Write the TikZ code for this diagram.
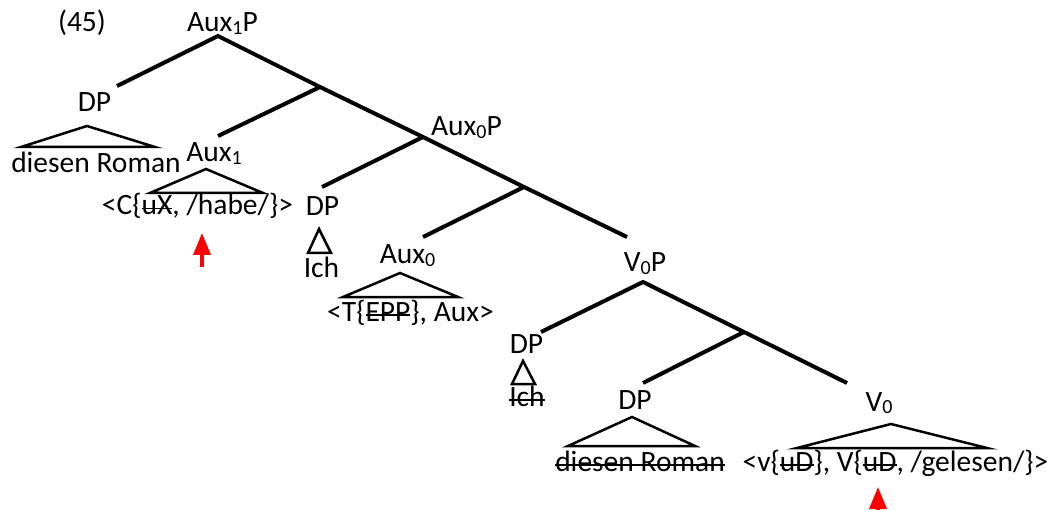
\documentclass[tikz,border=0pt]{standalone}
\usepackage{fontspec}
\setmainfont{Carlito}
\usetikzlibrary{arrows.meta}
\newsavebox{\mystrkbox}
\newcommand{\mystrk}[1]{\sbox{\mystrkbox}{#1}\rlap{\rule[5.5pt]{\wd\mystrkbox}{1.8pt}}\usebox{\mystrkbox}}
\newcommand{\lsub}[1]{\raisebox{-2.5pt}{\fontsize{20}{20}\selectfont #1}}
\begin{document}
\begin{tikzpicture}[x=1pt,y=-1pt,
  lbl/.style={anchor=base,inner sep=0pt,font=\fontsize{29.5}{34}\selectfont},
  branch/.style={line width=4pt},
  tri/.style={line width=2.5pt,line join=miter},
  redarrow/.style={red,line width=3.6pt,-{Triangle[length=22pt,width=17pt]}}]
\useasboundingbox (0,0) rectangle (1056,510);
% labels
\node[lbl] (num) at (82,32) {(45)};
\node[lbl] (auxonep) at (222.5,32) {Aux\lsub{1}P};
\node[lbl] (dpa) at (94.5,112) {DP};
\node[lbl] (dr) at (96,173) {diesen Roman};
\node[lbl] (auxone) at (214,162) {Aux\lsub{1}};
\node[lbl] (chabe) at (197.5,215) {<C\{\mystrk{uX}, /habe/\}>};
\node[lbl] (dpb) at (322.5,216) {DP};
\node[lbl] (ich) at (321.5,278) {Ich};
\node[lbl] (auxzp) at (466.5,136) {Aux\lsub{0}P};
\node[lbl] (auxz) at (407.5,264) {Aux\lsub{0}};
\node[lbl] (tepp) at (410.5,321) {<T\{\mystrk{EPP}\}, Aux>};
\node[lbl] (vzp) at (645,272) {V\lsub{0}P};
\node[lbl] (dpc) at (526.5,353) {DP};
\node[lbl] (ichs) at (527,406) {\mystrk{Ich}};
\node[lbl] (dpd) at (635,409) {DP};
\node[lbl] (vz) at (879,411) {V\lsub{0}};
\node[lbl] (drs) at (640,471) {\mystrk{diesen Roman}};
\node[lbl] (vgel) at (895.5,471) {<v\{\mystrk{uD}\}, V\{\mystrk{uD}, /gelesen/\}>};
% tree coordinates
\coordinate (r) at (218,36);
\coordinate (dpaend) at (117,86);
\coordinate (j1) at (320,87);
\coordinate (auxoneend) at (218,136);
\coordinate (j2) at (423,137);
\coordinate (dpbend) at (322,187);
\coordinate (j3) at (524,187);
\coordinate (auxzend) at (423,237);
\coordinate (vzpend) at (627,237);
\coordinate (va) at (643,282);
\coordinate (dpcend) at (541,332);
\coordinate (j4) at (744,332);
\coordinate (dpdend) at (643,383);
\coordinate (vzend) at (847,383);
\draw[branch] (dpaend) -- (r) -- (j1) -- (j2) -- (j3) -- (vzpend);
\draw[branch] (j1) -- (auxoneend);
\draw[branch] (j2) -- (dpbend);
\draw[branch] (j3) -- (auxzend);
\draw[branch] (dpcend) -- (va) -- (j4) -- (vzend);
\draw[branch] (j4) -- (dpdend);
% triangles
\draw[tri] (87,126) -- (21,147) -- (155,147) -- cycle;
\draw[tri] (206,169) -- (150,193) -- (263,193) -- cycle;
\draw[tri] (319,229) -- (308,253) -- (331,253) -- cycle;
\draw[tri] (400,273) -- (343,297) -- (458,297) -- cycle;
\draw[tri] (523,361) -- (512,384) -- (535,384) -- cycle;
\draw[tri] (632,417) -- (568,446) -- (695,446) -- cycle;
\draw[tri] (891,424) -- (797,448) -- (987,448) -- cycle;
% red arrows
\coordinate (a1s) at (202,267);
\coordinate (a1t) at (202,233);
\coordinate (a2s) at (878,515);
\coordinate (a2t) at (878,487);
\draw[redarrow] (a1s) -- (a1t);
\draw[redarrow] (a2s) -- (a2t);
\end{tikzpicture}
\end{document}
